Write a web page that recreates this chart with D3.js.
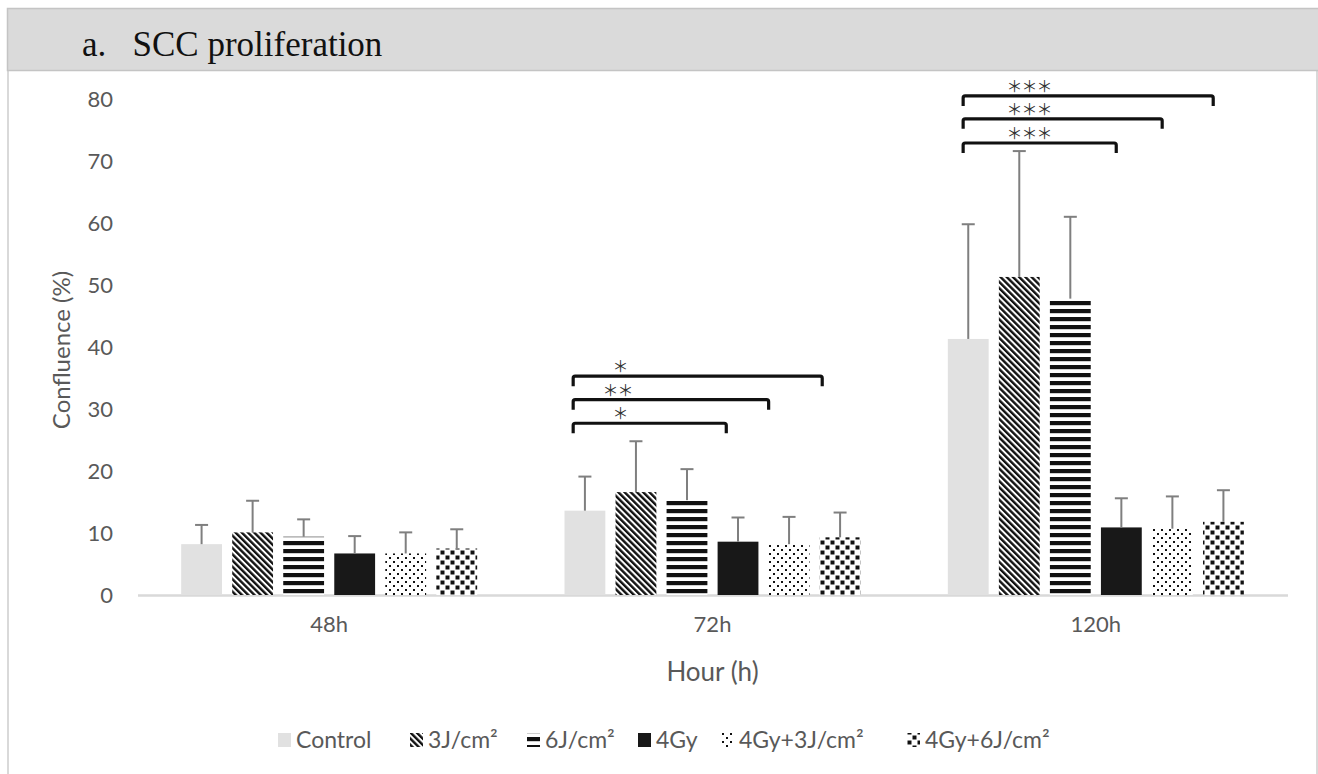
<!DOCTYPE html>
<html>
<head>
<meta charset="utf-8">
<script src="https://cdn.jsdelivr.net/npm/d3@7"></script>
<style>
  body { margin: 0; background: #fff; }
  svg { display: block; }
</style>
</head>
<body>
<script>
// ---- data ----
var hours = ["48h", "72h", "120h"];
var series = ["Control", "3J/cm²", "6J/cm²", "4Gy", "4Gy+3J/cm²", "4Gy+6J/cm²"];

// mean confluence (%) per series, one value per hour
var control   = [8.2, 13.6, 41.3];
var j3        = [10.1, 16.6, 51.3];
var j6        = [9.4, 15.3, 47.8];
var gy4       = [6.7, 8.6, 10.9];
var gy4j3     = [6.7, 8.2, 10.7];
var gy4j6     = [7.5, 9.3, 11.8];

// top of the (upper) error bar
var controlErr = [11.3, 19.1, 59.8];
var j3Err      = [15.2, 24.8, 71.6];
var j6Err      = [12.2, 20.3, 61.0];
var gy4Err     = [9.5, 12.5, 15.6];
var gy4j3Err   = [10.1, 12.6, 15.9];
var gy4j6Err   = [10.6, 13.3, 16.9];

var yTicks = [0, 10, 20, 30, 40, 50, 60, 70, 80];

// significance brackets (bar positions as fractional series index)
var sigHour  = ["72h", "72h", "72h", "120h", "120h", "120h"];
var sigFrom  = [-0.23, -0.23, -0.23, -0.1, -0.1, -0.1];
var sigTo    = [2.77, 3.6, 4.65, 2.9, 3.8, 4.8];
var sigLevel = [27.7, 31.5, 35.3, 72.9, 76.8, 80.5];
var sigLabel = ["*", "**", "*", "***", "***", "***"];
var sigAt    = [0.65, 0.6, 0.65, 1.15, 1.15, 1.15];

var means = [control, j3, j6, gy4, gy4j3, gy4j6];
var errs  = [controlErr, j3Err, j6Err, gy4Err, gy4j3Err, gy4j6Err];
var fills = ["#e1e1e1", "url(#pDiag)", "url(#pHoriz)", "#181818", "url(#pDots)", "url(#pSquares)"];

var w = 1318, h = 774;
var font = "Lato, 'Open Sans', sans-serif";
var textGrey = "#595959";

var svg = d3.select("body").append("svg")
  .attr("width", w)
  .attr("height", h);

// ---- patterns ----
var defs = svg.append("defs");

var pd = defs.append("pattern").attr("id", "pDiag")
  .attr("patternUnits", "userSpaceOnUse")
  .attr("width", 4.4).attr("height", 4.4)
  .attr("patternTransform", "rotate(-45)");
pd.append("rect").attr("width", 4.4).attr("height", 4.4).attr("fill", "#fff");
pd.append("rect").attr("width", 2.4).attr("height", 4.4).attr("fill", "#111");

var ph = defs.append("pattern").attr("id", "pHoriz")
  .attr("patternUnits", "userSpaceOnUse")
  .attr("width", 8).attr("height", 8)
  .attr("y", 595);
ph.append("rect").attr("width", 8).attr("height", 8).attr("fill", "#fff");
ph.append("rect").attr("width", 8).attr("height", 4.2).attr("y", 2).attr("fill", "#111");

var pdot = defs.append("pattern").attr("id", "pDots")
  .attr("patternUnits", "userSpaceOnUse")
  .attr("width", 8).attr("height", 8);
pdot.append("rect").attr("width", 8).attr("height", 8).attr("fill", "#fff");
pdot.append("rect").attr("x", 1).attr("y", 1).attr("width", 2).attr("height", 2).attr("fill", "#111");
pdot.append("rect").attr("x", 5).attr("y", 5).attr("width", 2).attr("height", 2).attr("fill", "#111");

var psq = defs.append("pattern").attr("id", "pSquares")
  .attr("patternUnits", "userSpaceOnUse")
  .attr("width", 10).attr("height", 10);
psq.append("rect").attr("width", 10).attr("height", 10).attr("fill", "#fff");
psq.append("rect").attr("x", 0.5).attr("y", 0.5).attr("width", 4).attr("height", 4).attr("fill", "#111");
psq.append("rect").attr("x", 5.5).attr("y", 5.5).attr("width", 4).attr("height", 4).attr("fill", "#111");

// ---- frame and title ----
svg.append("line")
  .attr("x1", 8).attr("x2", 8).attr("y1", 70).attr("y2", h)
  .attr("stroke", "#d9d9d9").attr("stroke-width", 2);
svg.append("line")
  .attr("x1", 1317).attr("x2", 1317).attr("y1", 70).attr("y2", h)
  .attr("stroke", "#d9d9d9").attr("stroke-width", 2);
svg.append("rect")
  .attr("x", 7.5).attr("y", 8.5).attr("width", w).attr("height", 62)
  .attr("fill", "#dadada").attr("stroke", "#c4c4c4").attr("stroke-width", 1.5);
svg.append("text")
  .attr("x", 82).attr("y", 56)
  .attr("font-family", "'Liberation Serif', 'Times New Roman', serif")
  .attr("font-size", 35)
  .attr("fill", "#111")
  .attr("xml:space", "preserve")
  .text("a.   SCC proliferation");

// ---- scales ----
var x = d3.scaleBand()
  .domain(hours)
  .range([137.5, 1287.5])
  .padding(0);

var inner = d3.scaleBand()
  .domain(series)
  .range([0, 296])
  .paddingInner(0.2);

var groupStart = (x.bandwidth() - 296) / 2;

var y = d3.scaleLinear()
  .domain([0, 80])
  .range([595, 99]);

function barPos(hour, f) {
  return x(hour) + groupStart + inner.bandwidth() / 2 + f * inner.step();
}

// ---- axes ----
var yAxis = d3.axisLeft(y)
  .tickValues(yTicks)
  .tickSize(0)
  .tickPadding(24);

var gy = svg.append("g")
  .attr("transform", "translate(137,0)")
  .call(yAxis);
gy.select(".domain").remove();
gy.selectAll("text")
  .attr("font-family", font)
  .attr("font-size", 22)
  .attr("fill", textGrey);

var xAxis = d3.axisBottom(x).tickSize(0).tickPadding(21);
var gx = svg.append("g")
  .attr("transform", "translate(0," + y(0) + ")")
  .call(xAxis);
gx.select(".domain")
  .attr("stroke", "#d9d9d9")
  .attr("stroke-width", 2.5);
gx.selectAll("text")
  .attr("font-family", font)
  .attr("font-size", 22)
  .attr("fill", textGrey);

// axis titles
svg.append("text")
  .attr("transform", "translate(70,350) rotate(-90)")
  .attr("text-anchor", "middle")
  .attr("font-family", font)
  .attr("font-size", 24)
  .attr("fill", textGrey)
  .text("Confluence (%)");

svg.append("text")
  .attr("x", x("72h") + x.bandwidth() / 2)
  .attr("y", 681)
  .attr("text-anchor", "middle")
  .attr("font-family", font)
  .attr("font-size", 26)
  .attr("fill", textGrey)
  .text("Hour (h)");

// ---- bars ----
var rows = [];
series.forEach(function(s, si) {
  hours.forEach(function(hr, hi) {
    rows.push({ series: s, si: si, hour: hr, v: means[si][hi], e: errs[si][hi] });
  });
});

var bars = svg.append("g");
bars.selectAll("rect")
  .data(rows)
  .enter()
  .append("rect")
  .attr("x", function(d) { return x(d.hour) + groupStart + inner(d.series); })
  .attr("y", function(d) { return y(d.v); })
  .attr("width", inner.bandwidth())
  .attr("height", function(d) { return y(0) - y(d.v); })
  .attr("fill", function(d) { return fills[d.si]; });

// error bars (upper only)
var eb = svg.append("g")
  .attr("stroke", "#7f7f7f")
  .attr("stroke-width", 2);
eb.selectAll(".stem")
  .data(rows)
  .enter()
  .append("line")
  .attr("x1", function(d) { return x(d.hour) + groupStart + inner(d.series) + inner.bandwidth() / 2; })
  .attr("x2", function(d) { return x(d.hour) + groupStart + inner(d.series) + inner.bandwidth() / 2; })
  .attr("y1", function(d) { return y(d.v); })
  .attr("y2", function(d) { return y(d.e); });
eb.selectAll(".cap")
  .data(rows)
  .enter()
  .append("line")
  .attr("x1", function(d) { return x(d.hour) + groupStart + inner(d.series) + inner.bandwidth() / 2 - 6.5; })
  .attr("x2", function(d) { return x(d.hour) + groupStart + inner(d.series) + inner.bandwidth() / 2 + 6.5; })
  .attr("y1", function(d) { return y(d.e); })
  .attr("y2", function(d) { return y(d.e); });

// ---- significance brackets ----
var sig = sigHour.map(function(hr, i) {
  return { hour: hr, from: sigFrom[i], to: sigTo[i], level: sigLevel[i], label: sigLabel[i], at: sigAt[i] };
});

var sg = svg.append("g");
sg.selectAll("path")
  .data(sig)
  .enter()
  .append("path")
  .attr("d", function(d) {
    var x1 = barPos(d.hour, d.from), x2 = barPos(d.hour, d.to), yy = y(d.level);
    return "M" + x1 + "," + (yy + 10) + "L" + x1 + "," + (yy + 2) + "Q" + x1 + "," + yy + " " + (x1 + 2) + "," + yy +
      "L" + (x2 - 2) + "," + yy + "Q" + x2 + "," + yy + " " + x2 + "," + (yy + 2) + "L" + x2 + "," + (yy + 10);
  })
  .attr("fill", "none")
  .attr("stroke", "#111")
  .attr("stroke-width", 3.2);

// full-width asterisks, centred in the em box like the reference
sg.selectAll("text")
  .data(sig)
  .enter()
  .append("text")
  .attr("x", function(d) { return barPos(d.hour, d.at) + 2; })
  .attr("y", function(d) { return y(d.level) - 4; })
  .attr("text-anchor", "middle")
  .attr("font-family", "'Noto Sans CJK SC', 'DejaVu Sans', sans-serif")
  .attr("font-size", 16)
  .attr("letter-spacing", -1)
  .attr("fill", "#333")
  .text(function(d) { return d.label.replace(/\*/g, "＊"); });

// ---- legend ----
var legendX = [278, 410, 527, 638, 721, 907];
var lg = svg.append("g");
var li = lg.selectAll("g")
  .data(series)
  .enter()
  .append("g")
  .attr("transform", function(d, i) { return "translate(" + legendX[i] + ",740)"; });
li.append("rect")
  .attr("x", 0).attr("y", -7)
  .attr("width", 13).attr("height", 14)
  .attr("fill", function(d, i) { return fills[i]; });
li.append("text")
  .attr("x", 18)
  .attr("y", 8)
  .attr("font-family", font)
  .attr("font-size", 23)
  .attr("fill", textGrey)
  .text(function(d) { return d; });
</script>
</body>
</html>
